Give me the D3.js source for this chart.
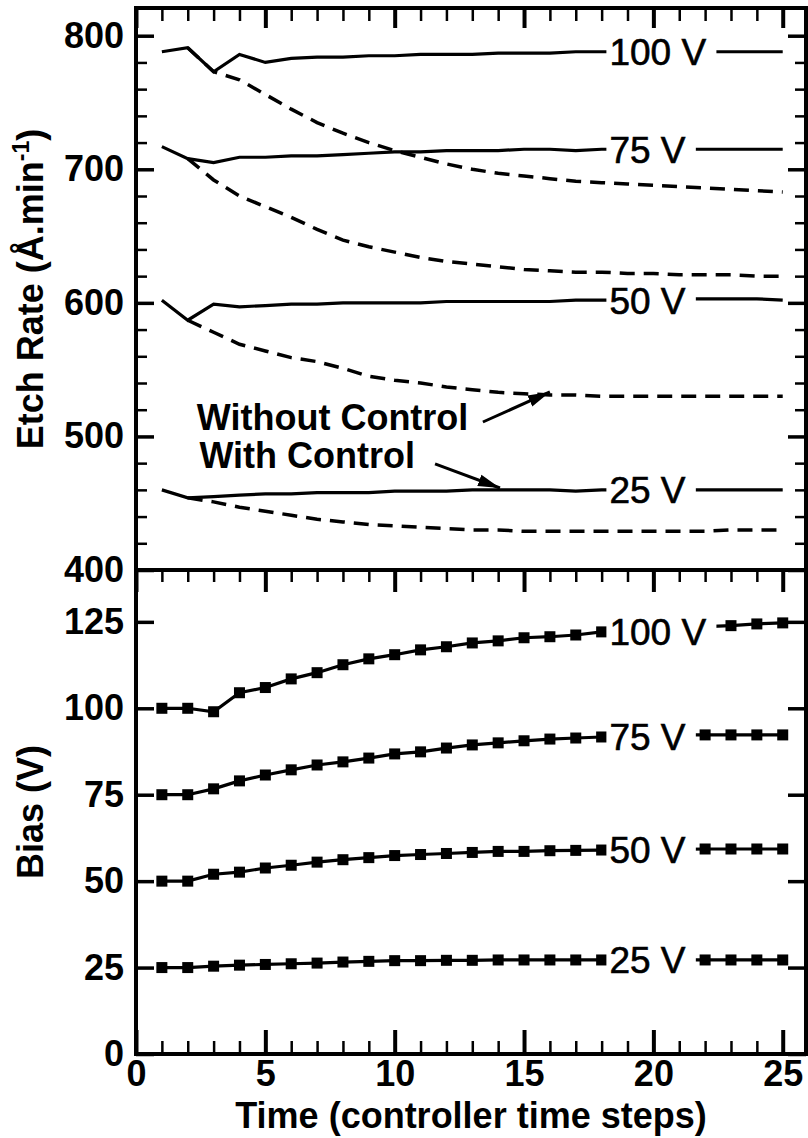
<!DOCTYPE html>
<html>
<head>
<meta charset="utf-8">
<script src="https://cdn.jsdelivr.net/npm/d3@7"></script>
<style>
    body { margin: 0; background: #fff; }
    svg text { font-family: "Liberation Sans", Arial, sans-serif; fill: #000; }
</style>
</head>
<body>
<div id="chart"></div>
<script>
// time steps (x values)
const timeSteps = [1, 2, 3, 4, 5, 6, 7, 8, 9, 10, 11, 12, 13, 14, 15, 16, 17, 18, 19, 20, 21, 22, 23, 24, 25];
const voltages = ["100 V", "75 V", "50 V", "25 V"];

// etch rate with control (solid), t = 1..25
const etchWith100 = [788, 791, 773, 786, 780, 783, 784, 784, 785, 785, 786, 786, 786, 787, 787, 787, 788, 788, 788, 788, 788, 788, 788, 788, 788];
const etchWith75 = [717, 708, 705, 709, 709, 710, 710, 711, 712, 713, 713, 714, 714, 714, 715, 715, 714, 715, 715, 715, 715, 715, 715, 715, 715];
const etchWith50 = [602, 587, 599, 597, 598, 599, 599, 600, 600, 600, 600, 601, 601, 601, 601, 601, 602, 602, 602, 603, 603, 603, 603, 603, 602];
const etchWith25 = [460, 454, 455, 456, 457, 457, 458, 458, 458, 459, 459, 459, 460, 460, 460, 460, 459, 460, 460, 460, 460, 460, 460, 460, 460];

// etch rate without control (dashed), t = 2..25
const etchWithout100 = [791, 773, 767, 756, 745, 735, 727, 720, 714, 709, 704, 700, 697, 695, 693, 691, 690, 689, 688, 687, 686, 685, 684, 683];
const etchWithout75 = [708, 692, 680, 672, 664, 655, 647, 642, 638, 634, 631, 629, 627, 625, 624, 623, 623, 622, 622, 621, 621, 621, 620, 620];
const etchWithout50 = [587, 578, 569, 564, 559, 556, 551, 545, 542, 540, 537, 535, 533, 532, 531, 531, 530, 530, 530, 530, 530, 530, 530, 530];
const etchWithout25 = [454, 451, 447, 444, 441, 438, 436, 434, 433, 432, 431, 430, 430, 429, 429, 429, 429, 429, 429, 429, 429, 430, 430, 430];

// bias (V), t = 1..25
const bias100 = [100, 100, 99, 104.5, 106, 108.5, 110.3, 112.6, 114.3, 115.5, 116.9, 117.8, 118.9, 119.5, 120.4, 120.7, 121.2, 122.1, 122.5, 123, 123.3, 123.6, 123.9, 124.4, 124.7];
const bias75 = [75, 75, 76.7, 79, 80.7, 82.2, 83.6, 84.5, 85.6, 86.8, 87.4, 88.5, 89.4, 90, 90.6, 91.1, 91.4, 91.7, 92, 92.2, 92.3, 92.3, 92.3, 92.3, 92.3];
const bias50 = [50, 50, 52, 52.6, 53.8, 54.6, 55.5, 56.2, 56.8, 57.4, 57.7, 58, 58.3, 58.6, 58.6, 58.8, 58.9, 59, 59.1, 59.2, 59.2, 59.3, 59.3, 59.3, 59.3];
const bias25 = [25, 25, 25.4, 25.7, 25.9, 26.1, 26.3, 26.6, 26.8, 27, 27, 27.1, 27.1, 27.2, 27.2, 27.2, 27.2, 27.2, 27.2, 27.2, 27.2, 27.2, 27.2, 27.2, 27.2];

const etchTicks = [400, 500, 600, 700, 800];
const biasTicks = [0, 25, 50, 75, 100, 125];
const timeTicks = [0, 5, 10, 15, 20, 25];

const W = 808, H = 1138;
const plot = { left: 136, right: 806, top: 8, mid: 570, bottom: 1054 };

const svg = d3.select("#chart").append("svg")
    .attr("width", W)
    .attr("height", H);

const x = d3.scaleLinear().domain([0, 25.9]).range([plot.left, plot.right]);
const yEtch = d3.scaleLinear().domain([400, 820]).range([plot.mid, plot.top + 1]);
const yBias = d3.scaleLinear().domain([0, 140]).range([plot.bottom, plot.mid]);

const minorTime = d3.range(1, 26).filter(d => d % 5 !== 0);
const minorEtch = d3.range(420, 820, 20).filter(d => d % 100 !== 0);

svg.append("defs").append("marker")
    .attr("id", "arrow")
    .attr("markerUnits", "userSpaceOnUse")
    .attr("markerWidth", 24).attr("markerHeight", 14)
    .attr("refX", 22).attr("refY", 7)
    .attr("orient", "auto")
    .append("path")
    .attr("d", "M0,1 L22,7 L0,13 Z")
    .attr("fill", "#000");

// axis helper: draws ticks only (domain path removed)
function addAxis(axis, transform, width, withLabels) {
    const g = svg.append("g")
        .attr("transform", transform)
        .call(axis);
    g.select(".domain").remove();
    g.selectAll(".tick line").attr("stroke", "#000").attr("stroke-width", width);
    if (withLabels) {
        g.selectAll(".tick text")
            .style("font-size", "36px")
            .style("font-weight", "bold")
            .attr("fill", "#000");
    } else {
        g.selectAll(".tick text").remove();
    }
    return g;
}

// ---- top panel axes
addAxis(d3.axisLeft(yEtch).tickValues(minorEtch).tickSize(-11), `translate(${plot.left},0)`, 2.5, false);
addAxis(d3.axisLeft(yEtch).tickValues(etchTicks).tickSize(-18).tickPadding(12), `translate(${plot.left},0)`, 3.5, true);
addAxis(d3.axisRight(yEtch).tickValues(minorEtch).tickSize(-11), `translate(${plot.right},0)`, 2.5, false);
addAxis(d3.axisRight(yEtch).tickValues(etchTicks).tickSize(-18), `translate(${plot.right},0)`, 3.5, false);
addAxis(d3.axisTop(x).tickValues(minorTime).tickSize(-13), `translate(0,${plot.top})`, 2.5, false);
addAxis(d3.axisTop(x).tickValues(timeTicks).tickSize(-20), `translate(0,${plot.top})`, 4, false);

// ---- bottom panel axes
addAxis(d3.axisLeft(yBias).tickValues(biasTicks).tickSize(-18).tickPadding(12), `translate(${plot.left},0)`, 3.5, true);
addAxis(d3.axisRight(yBias).tickValues(biasTicks).tickSize(-18), `translate(${plot.right},0)`, 3.5, false);
addAxis(d3.axisBottom(x).tickValues(minorTime).tickSize(12), `translate(0,${plot.mid})`, 2.5, false);
addAxis(d3.axisBottom(x).tickValues(timeTicks).tickSize(22), `translate(0,${plot.mid})`, 4, false);
addAxis(d3.axisBottom(x).tickValues(minorTime).tickSize(-13), `translate(0,${plot.bottom})`, 2.5, false);
addAxis(d3.axisBottom(x).tickValues(timeTicks).tickSize(-24).tickPadding(6), `translate(0,${plot.bottom})`, 4, true);

// frames
svg.append("rect")
    .attr("x", plot.left).attr("y", plot.top)
    .attr("width", plot.right - plot.left).attr("height", plot.mid - plot.top)
    .attr("fill", "none").attr("stroke", "#000").attr("stroke-width", 4);
svg.append("rect")
    .attr("x", plot.left).attr("y", plot.mid)
    .attr("width", plot.right - plot.left).attr("height", plot.bottom - plot.mid)
    .attr("fill", "none").attr("stroke", "#000").attr("stroke-width", 4);

// ---- series
const etchWith = [etchWith100, etchWith75, etchWith50, etchWith25];
const etchWithout = [etchWithout100, etchWithout75, etchWithout50, etchWithout25];
const biasSeries = [bias100, bias75, bias50, bias25];

const etchLine = d3.line().x(d => x(d.t)).y(d => yEtch(d.v));
const biasLine = d3.line().x(d => x(d.t)).y(d => yBias(d.v));

etchWithout.forEach(vals => {
    svg.append("path")
        .datum(vals.map((v, i) => ({ t: timeSteps[i + 1], v: v })))
        .attr("d", etchLine)
        .attr("fill", "none")
        .attr("stroke", "#000")
        .attr("stroke-width", 3.5)
        .attr("stroke-dasharray", "15,9");
});

etchWith.forEach(vals => {
    svg.append("path")
        .datum(vals.map((v, i) => ({ t: timeSteps[i], v: v })))
        .attr("d", etchLine)
        .attr("fill", "none")
        .attr("stroke", "#000")
        .attr("stroke-width", 3.2);
});

biasSeries.forEach(vals => {
    const pts = vals.map((v, i) => ({ t: timeSteps[i], v: v }));
    svg.append("path")
        .datum(pts)
        .attr("d", biasLine)
        .attr("fill", "none")
        .attr("stroke", "#000")
        .attr("stroke-width", 3.2);
    svg.append("g").selectAll("rect")
        .data(pts)
        .join("rect")
        .attr("x", d => x(d.t) - 5.5)
        .attr("y", d => yBias(d.v) - 5.5)
        .attr("width", 11)
        .attr("height", 11)
        .attr("fill", "#000");
});

// ---- voltage labels with white boxes that cut the lines
function addLabel(text, yPos) {
    const g = svg.append("g");
    const box = g.append("rect").attr("fill", "#fff");
    const t = g.append("text")
        .attr("x", x(18.3))
        .attr("y", yPos)
        .attr("dy", "0.36em")
        .style("font-size", "37px")
        .style("stroke", "#000")
        .style("stroke-width", 0.6)
        .text(text);
    const bb = t.node().getBBox();
    box.attr("x", bb.x - 3).attr("y", bb.y)
        .attr("width", bb.width + 13).attr("height", bb.height);
}

voltages.forEach((label, i) => {
    addLabel(label, yEtch(etchWith[i][17]));
    addLabel(label, yBias(biasSeries[i][17]));
});

// ---- annotations
svg.append("text")
    .attr("x", x(2.35)).attr("y", yEtch(505))
    .style("font-size", "36px").style("font-weight", "bold")
    .text("Without Control");
svg.append("text")
    .attr("x", x(2.45)).attr("y", yEtch(476))
    .style("font-size", "36px").style("font-weight", "bold")
    .text("With Control");

svg.append("line")
    .attr("x1", x(13.41)).attr("y1", yEtch(510.8))
    .attr("x2", x(16.0)).attr("y2", yEtch(533.3))
    .attr("stroke", "#000").attr("stroke-width", 3)
    .attr("marker-end", "url(#arrow)");
svg.append("line")
    .attr("x1", x(11.56)).attr("y1", yEtch(479.4))
    .attr("x2", x(14.07)).attr("y2", yEtch(461.4))
    .attr("stroke", "#000").attr("stroke-width", 3)
    .attr("marker-end", "url(#arrow)");

// ---- axis titles
const etchTitle = svg.append("text")
    .attr("transform", `translate(43,${(plot.top + plot.mid) / 2}) rotate(-90)`)
    .attr("text-anchor", "middle")
    .style("font-size", "36px").style("font-weight", "bold");
etchTitle.append("tspan").text("Etch Rate (Å.min");
etchTitle.append("tspan").attr("dy", -14).style("font-size", "23px").text("-1");
etchTitle.append("tspan").attr("dy", 14).text(")");

svg.append("text")
    .attr("transform", `translate(43,${(plot.mid + plot.bottom) / 2}) rotate(-90)`)
    .attr("text-anchor", "middle")
    .style("font-size", "36px").style("font-weight", "bold")
    .text("Bias (V)");

svg.append("text")
    .attr("x", (plot.left + plot.right) / 2)
    .attr("y", 1128)
    .attr("text-anchor", "middle")
    .style("font-size", "36px").style("font-weight", "bold")
    .text("Time (controller time steps)");
</script>
</body>
</html>
